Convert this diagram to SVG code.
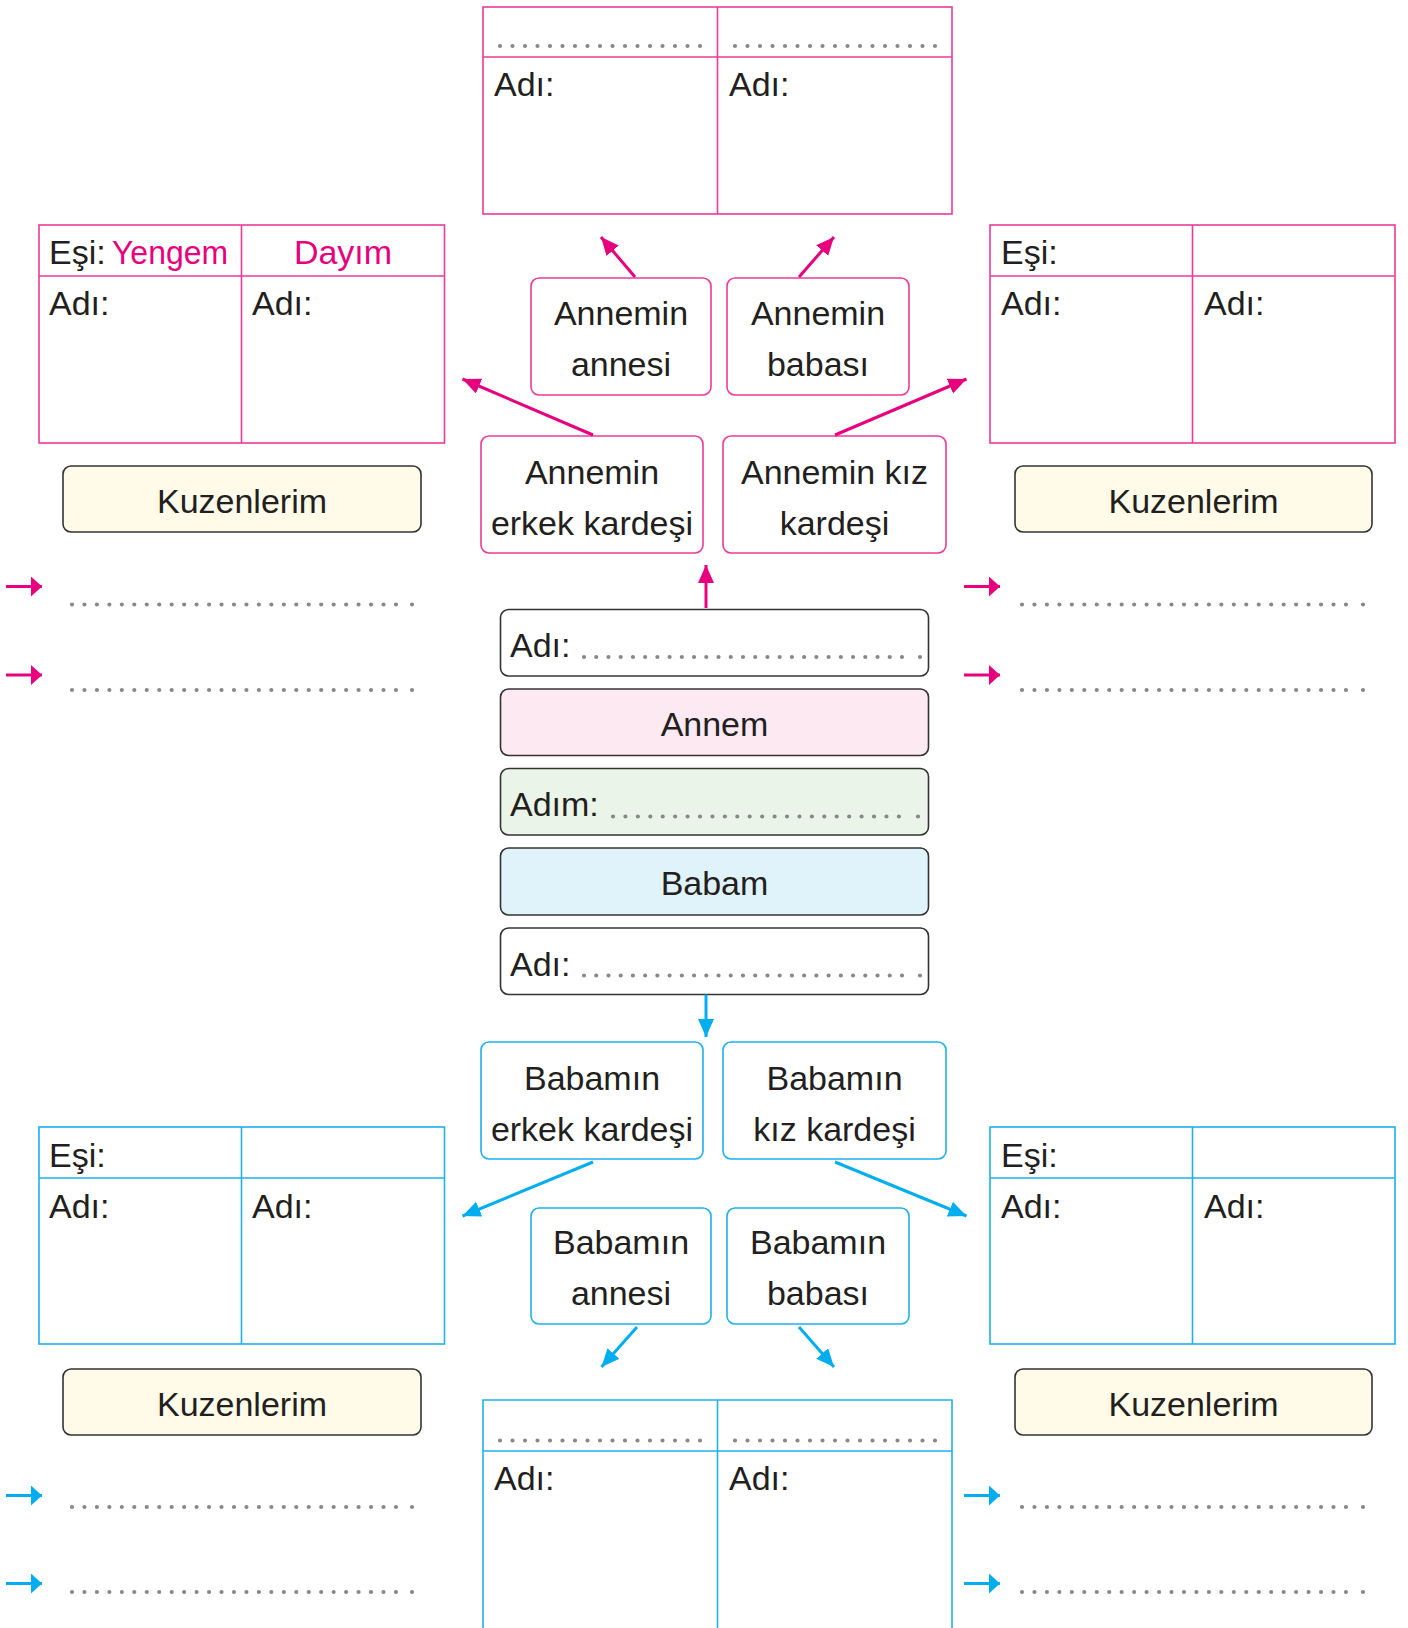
<svg xmlns="http://www.w3.org/2000/svg" width="1408" height="1628" viewBox="0 0 1408 1628">
<style>
text{font-family:"Liberation Sans",Arial,sans-serif;font-size:34px;fill:#231F20}
.c{text-anchor:middle}
.pk{fill:#E6007E}
.tp{fill:none;stroke:#EC3B97;stroke-width:1.6}
.tb{fill:none;stroke:#1FB1EC;stroke-width:1.6}
.bp{fill:#fff;stroke:#EC3B97;stroke-width:1.6}
.bb{fill:#fff;stroke:#1FB1EC;stroke-width:1.6}
.bd{stroke:#333;stroke-width:1.6}
.kz{fill:#FFFBE8;stroke:#333;stroke-width:1.6}
.dt{fill:none;stroke:#888;stroke-width:4.2;stroke-linecap:round}
.ap{fill:none;stroke:#E6007E;stroke-width:3;marker-end:url(#mp)}
.ab{fill:none;stroke:#00AEEF;stroke-width:3;marker-end:url(#mb)}
.sp{fill:none;stroke:#E6007E;stroke-width:3;marker-end:url(#sp)}
.sb{fill:none;stroke:#00AEEF;stroke-width:3;marker-end:url(#sb)}
</style>
<defs>
<marker id="mp" markerUnits="userSpaceOnUse" markerWidth="20" markerHeight="18" refX="18" refY="8" orient="auto"><path d="M0,0 L18,8 L0,16 z" fill="#E6007E"/></marker>
<marker id="mb" markerUnits="userSpaceOnUse" markerWidth="20" markerHeight="18" refX="18" refY="8" orient="auto"><path d="M0,0 L18,8 L0,16 z" fill="#00AEEF"/></marker>
<marker id="sp" markerUnits="userSpaceOnUse" markerWidth="12" markerHeight="20" refX="11" refY="10" orient="auto"><path d="M0,0 L11,10 L0,20 z" fill="#E6007E"/></marker>
<marker id="sb" markerUnits="userSpaceOnUse" markerWidth="12" markerHeight="20" refX="11" refY="10" orient="auto"><path d="M0,0 L11,10 L0,20 z" fill="#00AEEF"/></marker>
</defs>
<rect width="1408" height="1628" fill="#fff"/>

<g id="annemin-ebeveyn-tablosu">
<rect class="tp" x="483" y="7" width="469" height="207"/>
<path class="tp" d="M483,57 H952 M717.5,7 V214"/>
<path class="dt" d="M500,46 H700.5 M735,46 H935.5" stroke-dasharray="0 12.5"/>
<text x="494" y="96">Adı:</text>
<text x="729" y="96">Adı:</text>
</g>

<g id="dayi-tablosu">
<rect class="tp" x="39" y="225" width="405.5" height="218"/>
<path class="tp" d="M39,276 H444.5 M241.5,225 V443"/>
<text x="49" y="264">Eşi:</text>
<text x="112" y="264" class="pk" textLength="116" lengthAdjust="spacingAndGlyphs">Yengem</text>
<text x="343" y="264" class="c pk">Dayım</text>
<text x="49" y="315">Adı:</text>
<text x="252" y="315">Adı:</text>
</g>

<g id="teyze-tablosu">
<rect class="tp" x="990" y="225" width="405" height="218"/>
<path class="tp" d="M990,276 H1395 M1192.5,225 V443"/>
<text x="1001" y="264">Eşi:</text>
<text x="1001" y="315">Adı:</text>
<text x="1204" y="315">Adı:</text>
</g>

<g id="kuzenlerim-1">
<rect class="kz" x="63" y="466" width="358" height="66" rx="8"/>
<text x="242" y="513" class="c">Kuzenlerim</text>
</g>
<g id="kuzenlerim-2">
<rect class="kz" x="1015" y="466" width="357" height="66" rx="8"/>
<text x="1193.5" y="513" class="c">Kuzenlerim</text>
</g>

<g id="annemin-annesi">
<rect class="bp" x="531" y="278" width="180" height="117" rx="8"/>
<text x="621" y="325" class="c">Annemin</text>
<text x="621" y="375.5" class="c">annesi</text>
</g>
<g id="annemin-babasi">
<rect class="bp" x="727" y="278" width="182" height="117" rx="8"/>
<text x="818" y="325" class="c">Annemin</text>
<text x="818" y="375.5" class="c">babası</text>
</g>
<g id="annemin-erkek-kardesi">
<rect class="bp" x="481" y="436" width="222" height="117" rx="8"/>
<text x="592" y="484" class="c">Annemin</text>
<text x="592" y="534.5" class="c">erkek kardeşi</text>
</g>
<g id="annemin-kiz-kardesi">
<rect class="bp" x="723" y="436" width="223" height="117" rx="8"/>
<text x="834.5" y="484" class="c">Annemin kız</text>
<text x="834.5" y="534.5" class="c">kardeşi</text>
</g>

<g id="kuzen-satirlari">
<path class="dt" d="M72,604.5 H396.5 M72,690 H396.5 M1022,604.5 H1346.5 M1022,690 H1346.5 M72,1507 H396.5 M72,1592 H396.5 M1022,1507 H1346.5 M1022,1592 H1346.5" stroke-dasharray="0 12.46"/>
<path class="dt" d="M412,604.5 h0 M412,690 h0 M1363,604.5 h0 M1363,690 h0 M412,1507 h0 M412,1592 h0 M1363,1507 h0 M1363,1592 h0"/>
</g>

<g id="annemin-adi">
<rect class="bd" fill="#fff" x="500.5" y="609.5" width="428" height="66.5" rx="8"/>
<text x="510" y="657">Adı:</text>
<path class="dt" d="M584,657 H902.5" stroke-dasharray="0 12.23"/>
<path class="dt" d="M920,657 h0"/>
</g>
<g id="annem">
<rect class="bd" fill="#FDE9F2" x="500.5" y="689" width="428" height="66.5" rx="8"/>
<text x="714.5" y="736" class="c">Annem</text>
</g>
<g id="adim">
<rect class="bd" fill="#EAF4E8" x="500.5" y="768.5" width="428" height="66.5" rx="8"/>
<text x="510" y="816">Adım:</text>
<path class="dt" d="M613,816.5 H899.5" stroke-dasharray="0 12.43"/>
<path class="dt" d="M918,816.5 h0"/>
</g>
<g id="babam">
<rect class="bd" fill="#E1F3FA" x="500.5" y="848" width="428" height="67" rx="8"/>
<text x="714.5" y="895" class="c">Babam</text>
</g>
<g id="babamin-adi">
<rect class="bd" fill="#fff" x="500.5" y="928" width="428" height="66.5" rx="8"/>
<text x="510" y="975.5">Adı:</text>
<path class="dt" d="M584,975.5 H902.5" stroke-dasharray="0 12.23"/>
<path class="dt" d="M920,975.5 h0"/>
</g>

<g id="babamin-erkek-kardesi">
<rect class="bb" x="481" y="1042" width="222" height="117" rx="8"/>
<text x="592" y="1090" class="c">Babamın</text>
<text x="592" y="1140.5" class="c">erkek kardeşi</text>
</g>
<g id="babamin-kiz-kardesi">
<rect class="bb" x="723" y="1042" width="223" height="117" rx="8"/>
<text x="834.5" y="1090" class="c">Babamın</text>
<text x="834.5" y="1140.5" class="c">kız kardeşi</text>
</g>
<g id="babamin-annesi">
<rect class="bb" x="531" y="1208" width="180" height="116" rx="8"/>
<text x="621" y="1254" class="c">Babamın</text>
<text x="621" y="1305" class="c">annesi</text>
</g>
<g id="babamin-babasi">
<rect class="bb" x="727" y="1208" width="182" height="116" rx="8"/>
<text x="818" y="1254" class="c">Babamın</text>
<text x="818" y="1305" class="c">babası</text>
</g>

<g id="amca-tablosu">
<rect class="tb" x="39" y="1127" width="405.5" height="217"/>
<path class="tb" d="M39,1178 H444.5 M241.5,1127 V1344"/>
<text x="49" y="1166.5">Eşi:</text>
<text x="49" y="1218">Adı:</text>
<text x="252" y="1218">Adı:</text>
</g>
<g id="hala-tablosu">
<rect class="tb" x="990" y="1127" width="405" height="217"/>
<path class="tb" d="M990,1178 H1395 M1192.5,1127 V1344"/>
<text x="1001" y="1166.5">Eşi:</text>
<text x="1001" y="1218">Adı:</text>
<text x="1204" y="1218">Adı:</text>
</g>

<g id="kuzenlerim-3">
<rect class="kz" x="63" y="1369" width="358" height="66" rx="8"/>
<text x="242" y="1416" class="c">Kuzenlerim</text>
</g>
<g id="kuzenlerim-4">
<rect class="kz" x="1015" y="1369" width="357" height="66" rx="8"/>
<text x="1193.5" y="1416" class="c">Kuzenlerim</text>
</g>

<g id="babamin-ebeveyn-tablosu">
<path class="tb" d="M483,1630 V1400 H952 V1630 M483,1451 H952 M717.5,1400 V1630"/>
<path class="dt" d="M500,1440.5 H700.5 M735,1440.5 H935.5" stroke-dasharray="0 12.5"/>
<text x="494" y="1490">Adı:</text>
<text x="729" y="1490">Adı:</text>
</g>

<g id="connectors">
<path class="ap" d="M635,277 L601,237"/>
<path class="ap" d="M799,277 L834,237"/>
<path class="ap" d="M593,435 L462.5,379"/>
<path class="ap" d="M835,435 L966.5,379"/>
<path class="ap" d="M706,608 V565"/>
<path class="ab" d="M706,994.5 V1037"/>
<path class="ab" d="M593,1162 L462.5,1216"/>
<path class="ab" d="M835,1162 L966.5,1216"/>
<path class="ab" d="M637,1327 L601.5,1367"/>
<path class="ab" d="M799,1327 L834,1367"/>
<path class="sp" d="M6,586.5 H42"/>
<path class="sp" d="M6,675 H42"/>
<path class="sp" d="M964,586.5 H1000"/>
<path class="sp" d="M964,675 H1000"/>
<path class="sb" d="M6,1495.5 H42"/>
<path class="sb" d="M6,1583.5 H42"/>
<path class="sb" d="M964,1495.5 H1000"/>
<path class="sb" d="M964,1583.5 H1000"/>
</g>
</svg>
